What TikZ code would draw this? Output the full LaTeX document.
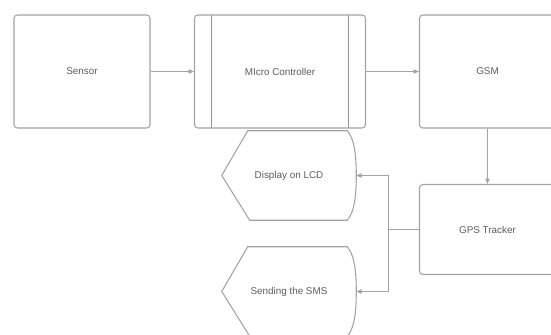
\documentclass[tikz,border=0pt]{standalone}
\usepackage{fontspec}
\setmainfont{Liberation Sans}
\usetikzlibrary{arrows.meta}
\usetikzlibrary{calc}
\usetikzlibrary{positioning}
\definecolor{linegray}{HTML}{A3A3A3}
\definecolor{textgray}{HTML}{5C5C5C}
\tikzstyle{block}=[draw=linegray, line width=0.8pt, rounded corners=2.5pt,
    text=textgray, font=\fontsize{7.4}{9}\selectfont]
\tikzstyle{big_box}=[block, minimum width=102pt, minimum height=84.75pt]
\tikzstyle{proc_box}=[block, minimum width=128.25pt, minimum height=84.75pt, proc_lines]
\tikzstyle{proc_lines}=[
    {path picture={
        \draw[linegray!90!black, line width=0.8pt]
        ([xshift=12.75pt]path picture bounding box.north west) --
        ([xshift=12.75pt]path picture bounding box.south west)
        ([xshift=-12.75pt]path picture bounding box.north east) --
        ([xshift=-12.75pt]path picture bounding box.south east);
      }
    }
]
\tikzstyle{disp_box}=[text=textgray, font=\fontsize{7.4}{9}\selectfont,
    minimum width=100.5pt, minimum height=66.75pt, inner sep=0pt]
\tikzstyle{conn}=[draw=linegray, line width=0.8pt,
    -{Triangle[length=4pt, width=3.2pt]}]
\newcommand{\dispoutline}[1]{%
  \draw[linegray, line width=0.8pt]
    (#1.west) -- ($(#1.north west)+(26,0)$)
    [rounded corners=2pt] -- ($(#1.north west)+(28,0)$) [sharp corners]
    -- ($(#1.north east)+(-9,0)$)
    .. controls ($(#1.north east)+(-1,9)$) and ($(#1.east)+(0,-16)$) .. (#1.east)
    .. controls ($(#1.east)+(0,16)$) and ($(#1.south east)+(-1,-9)$) .. ($(#1.south east)+(-9,0)$)
    -- ($(#1.south west)+(28,0)$) -- cycle;}

\begin{document}
\begin{tikzpicture}[x=0.75pt, y=-0.75pt]
\useasboundingbox (0,0) rectangle (551,335);
\node[big_box] (sensor) at (82,71.5) {Sensor};
\node[proc_box] (micro) at (280,71.5) {MIcro Controller};
\node[big_box] (gsm) at (487.5,71.5) {GSM};
\node[big_box, minimum height=67.5pt] (gps) at (487.5,229.5) {GPS Tracker};
\node[disp_box] (lcd) at (289,175.5) {Display on LCD};
\node[disp_box] (sms) at (289,291.5) {Sending the SMS};
\dispoutline{lcd}
\dispoutline{sms}
\coordinate (split) at (388.5,229.5);
\draw[conn](sensor) -- (micro);
\draw[conn](micro) -- (gsm);
\draw[conn](gsm) -- (gps);
\draw[draw=linegray, line width=0.8pt](gps) -- (split);
\draw[conn](split) |- (lcd);
\draw[conn](split) |- (sms);
\end{tikzpicture}
\end{document}
